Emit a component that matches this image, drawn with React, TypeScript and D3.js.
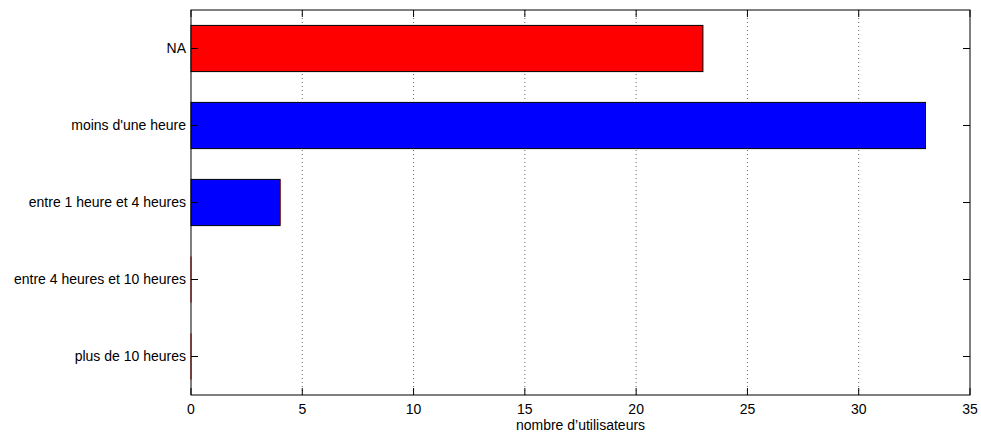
import React from "react";
import * as d3 from "d3";

const categories = ["NA", "moins d'une heure", "entre 1 heure et 4 heures", "entre 4 heures et 10 heures", "plus de 10 heures"];
const values = [23, 33, 4, 0, 0];
const barColors = ["#ff0000", "#0000ff", "#0000ff", "#0000ff", "#0000ff"];
const xTicks = [0, 5, 10, 15, 20, 25, 30, 35];
const xLabel = "nombre d’utilisateurs";

export default function App() {
  const W = 981, H = 435;
  const left = 191, right = 970, top = 10, bottom = 395;
  const x = d3.scaleLinear().domain([0, 35]).range([left, right]);
  const y = d3.scaleLinear().domain([0.5, 5.5]).range([top, bottom]);
  const barH = y(1.3) - y(0.7);
  const tickLen = 7;
  const font = "'Liberation Sans', Arial, sans-serif";
  const fs = 14;
  return (
    <svg width={W} height={H} style={{ position: "absolute", left: 0, top: 0, background: "#fff" }} fontFamily={font}>
      <rect x={0} y={0} width={W} height={H} fill="#fff" />
      {xTicks.slice(1, -1).map((t) => (
        <line key={"g" + t} x1={x(t)} x2={x(t)} y1={top} y2={bottom} stroke="#000" strokeWidth={0.6} strokeDasharray="1,3" />
      ))}
      <rect x={left} y={top} width={right - left} height={bottom - top} fill="none" stroke="#000" strokeWidth={1} />
      {values.map((v, i) => {
        const cy = y(i + 1);
        if (v <= 0)
          return <line key={i} x1={x(0)} x2={x(0)} y1={cy - barH / 2} y2={cy + barH / 2} stroke="#6b0000" strokeWidth={1} />;
        return (
          <g key={i}>
            <rect x={x(0)} y={cy - barH / 2} width={x(v) - x(0)} height={barH} fill={barColors[i]} stroke="#000" strokeWidth={1} />
            {i === 2 && <line x1={x(v)} x2={x(v)} y1={cy - barH / 2} y2={cy + barH / 2} stroke="#8b0000" strokeWidth={1} />}
          </g>
        );
      })}
      {xTicks.map((t) => (
        <g key={"t" + t}>
          <line x1={x(t)} x2={x(t)} y1={bottom} y2={bottom - tickLen} stroke="#000" />
          <line x1={x(t)} x2={x(t)} y1={top} y2={top + tickLen} stroke="#000" />
          <text x={x(t)} y={414} textAnchor="middle" fontSize={fs}>{t}</text>
        </g>
      ))}
      {categories.map((c, i) => (
        <g key={"c" + i}>
          <line x1={left} x2={left + tickLen} y1={y(i + 1)} y2={y(i + 1)} stroke="#000" />
          <line x1={right} x2={right - tickLen} y1={y(i + 1)} y2={y(i + 1)} stroke="#000" />
          <text x={186} y={y(i + 1)} dy="0.35em" textAnchor="end" fontSize={fs}>{c}</text>
        </g>
      ))}
      <text x={(left + right) / 2} y={430} textAnchor="middle" fontSize={fs}>{xLabel}</text>
    </svg>
  );
}
